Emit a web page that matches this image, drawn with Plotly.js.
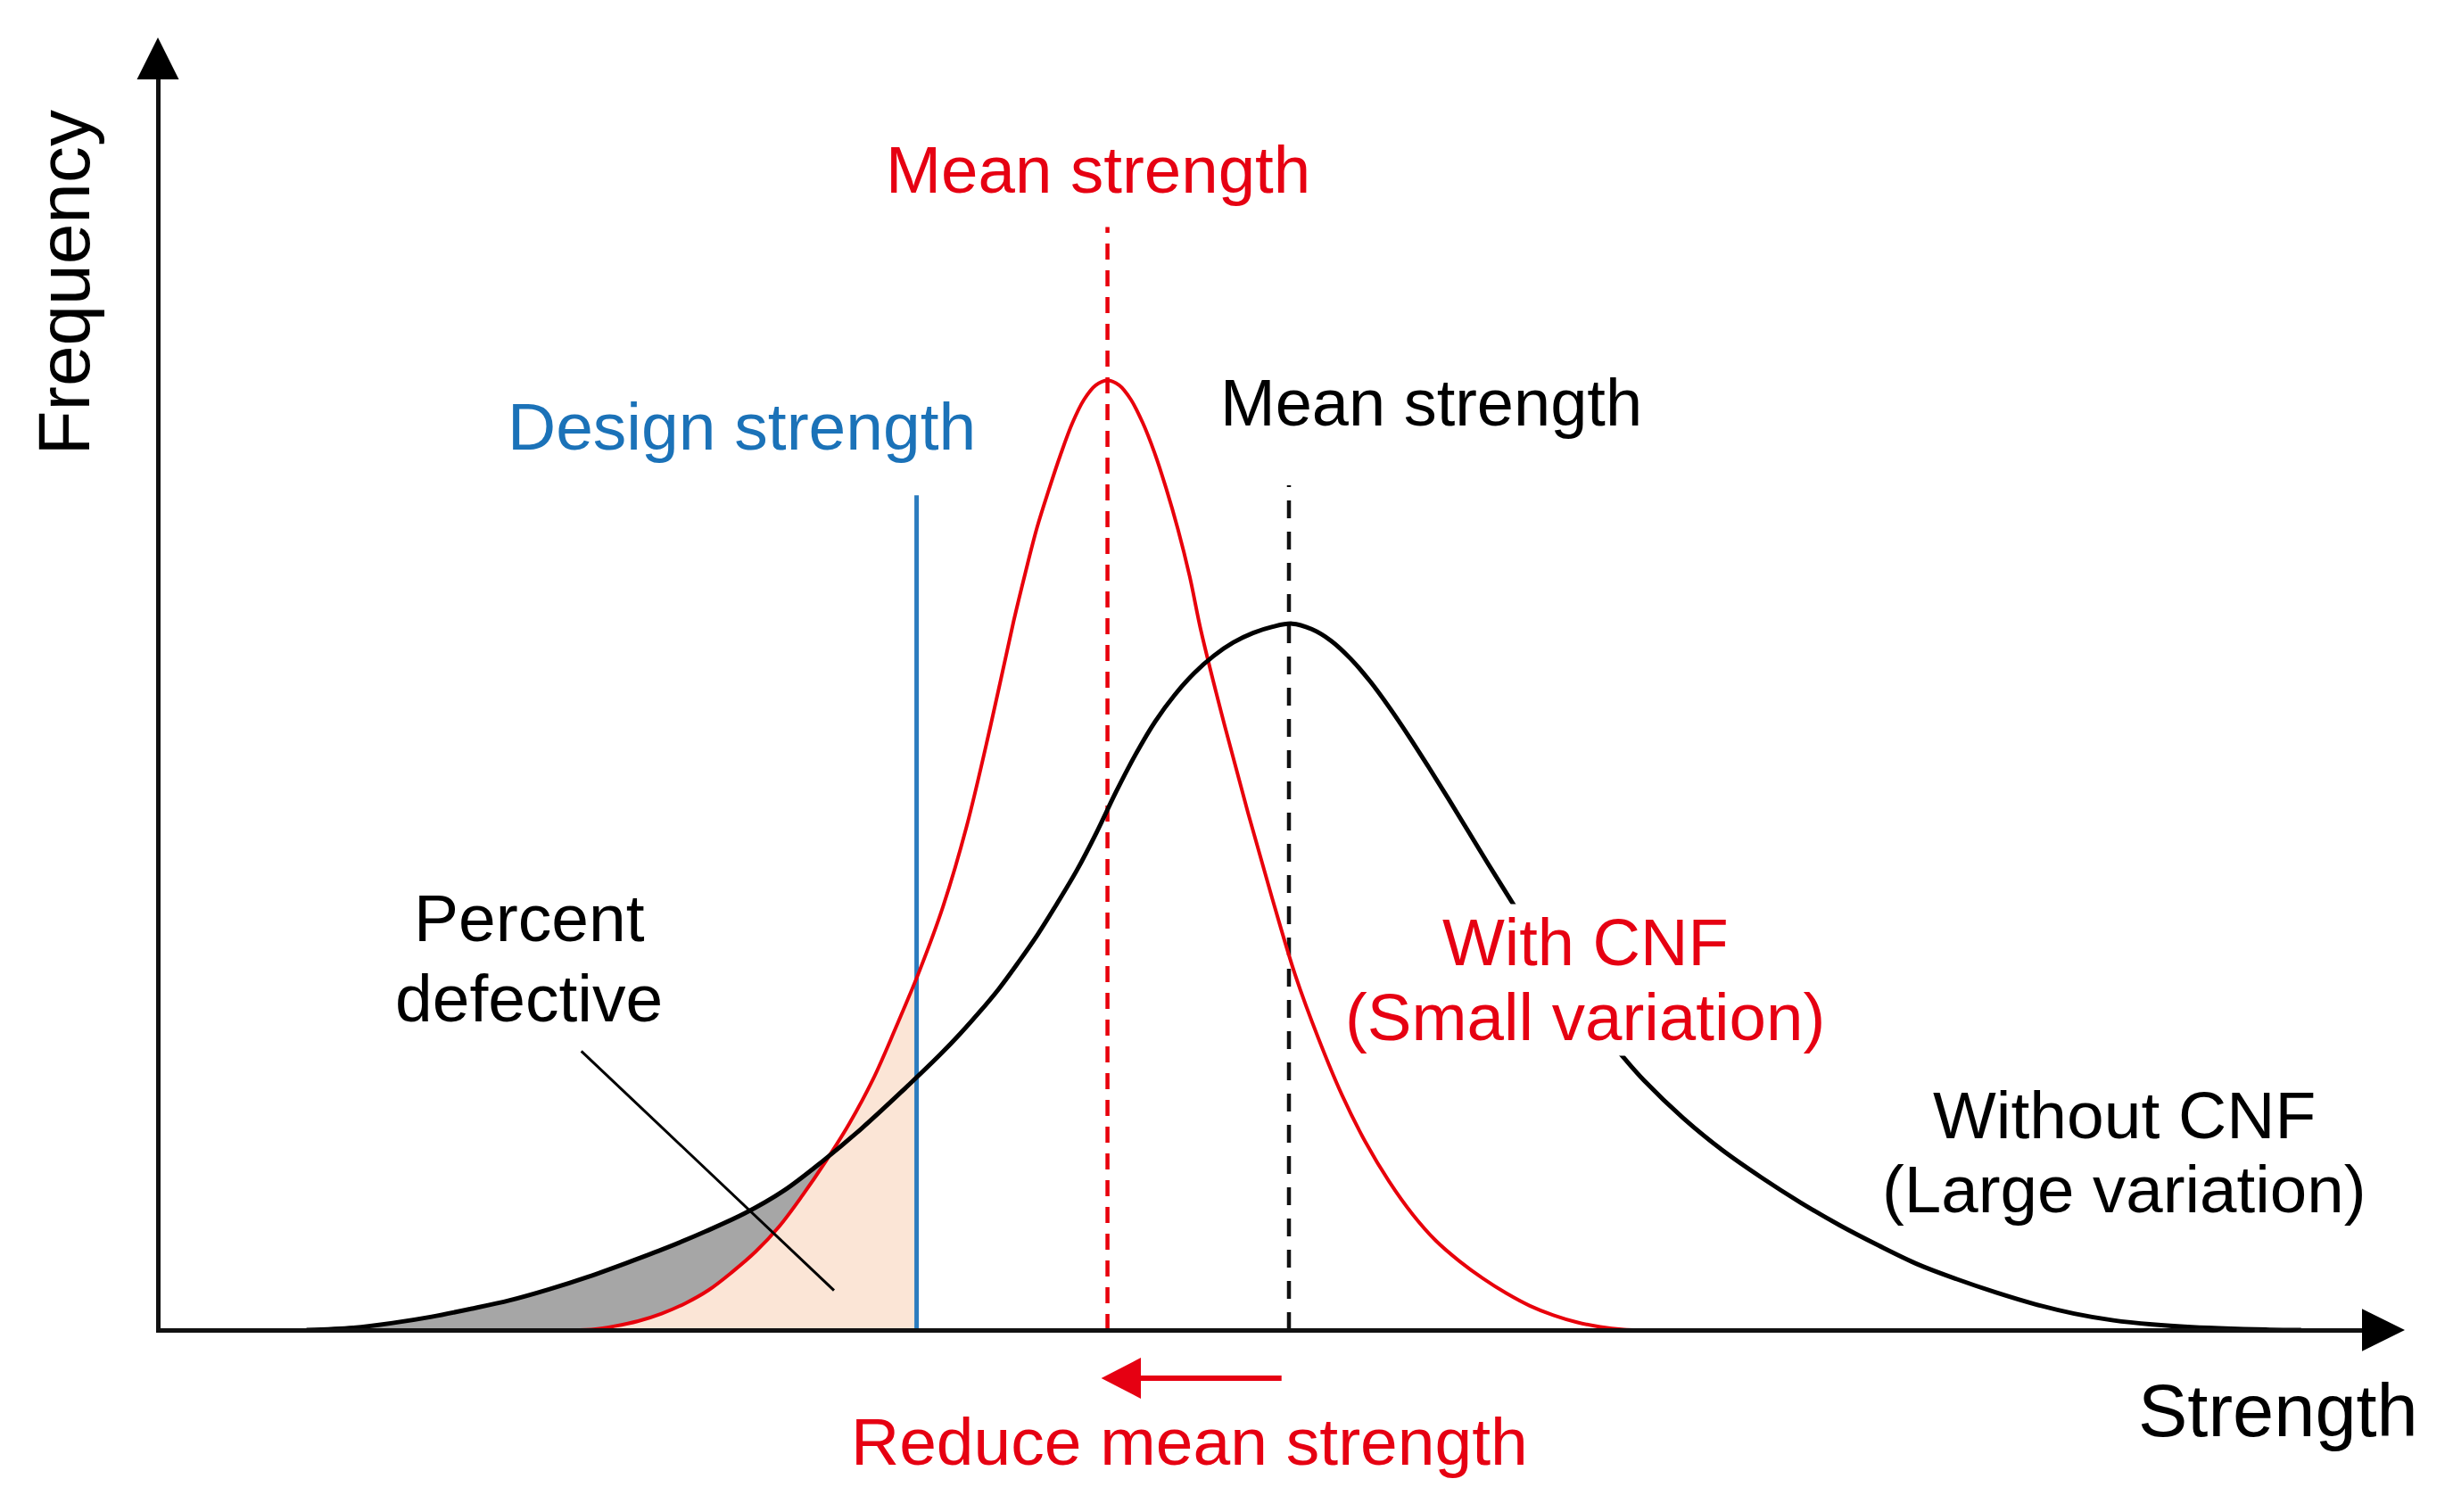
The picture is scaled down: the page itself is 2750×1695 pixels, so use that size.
<!DOCTYPE html>
<html>
<head>
<meta charset="utf-8">
<script src="https://cdn.plot.ly/plotly-3.0.1.min.js"></script>
<style>
html,body{margin:0;padding:0;background:#ffffff;}
#chart{width:2750px;height:1695px;}
</style>
</head>
<body>
<div id="chart"></div>
<script>
// ---------------- DATA (arbitrary strength / frequency units) ----------------
const strengthWithCNF  = [26.2, 27.7, 29.2, 30.7, 32.2, 33.7, 35.2, 36.7, 38.2, 39.7, 41.2, 42.7, 44.2, 45.7, 47.2, 48.7, 50.2, 51.7, 53.2, 54.7, 55.45, 56.2, 56.95, 57.7, 58.45, 59.2, 59.95, 60.7, 61.45, 62.2, 62.95, 63.7, 64.45, 65.2, 65.95, 66.7, 68.2, 69.7, 71.2, 72.7, 74.2, 75.7, 77.2, 78.7, 80.2, 81.7, 83.2, 84.7, 86.2, 87.7, 89.2, 90.7, 92.2, 93.7, 94.6];
const frequencyWithCNF = [0, 0.03, 0.25, 0.57, 1.05, 1.7, 2.55, 3.7, 5.0, 6.6, 8.6, 10.8, 13.2, 16.0, 19.4, 23.0, 27.1, 32.2, 38.5, 45.3, 48.4, 51.3, 53.7, 55.95, 57.96, 59.47, 60.39, 60.7, 60.39, 59.47, 58.0, 56.1, 53.8, 51.2, 48.2, 44.6, 38.6, 33.0, 27.7, 22.7, 18.6, 15.0, 12.0, 9.5, 7.4, 5.7, 4.4, 3.3, 2.35, 1.55, 0.95, 0.5, 0.2, 0.03, 0];

const strengthWithoutCNF  = [9.5, 12.5, 15, 17.5, 20, 22.5, 25, 27.5, 30, 32.5, 35, 37.5, 40, 42.5, 45, 47.5, 50, 51.25, 52.5, 53.75, 55, 56.25, 57.5, 58.75, 60, 61.25, 62.5, 63.75, 65, 66.25, 67.5, 68.75, 70, 71.25, 72.5, 73.75, 75, 76.25, 77.5, 78.75, 80, 81.25, 82.5, 83.75, 85, 86.25, 87.5, 88.75, 90, 91.25, 92.5, 93.75, 95, 97.5, 100, 102.5, 105, 107.5, 110, 112.5, 115, 117.5, 120, 122.5, 125, 127.5, 130, 132.5, 135, 137];
const frequencyWithoutCNF = [0, 0.15, 0.45, 0.85, 1.35, 1.9, 2.6, 3.4, 4.3, 5.25, 6.3, 7.45, 8.9, 10.8, 12.9, 15.2, 17.6, 18.9, 20.3, 21.8, 23.5, 25.3, 27.3, 29.4, 31.8, 34.4, 36.8, 38.9, 40.6, 42.0, 43.1, 43.95, 44.55, 44.95, 45.15, 44.8, 44.05, 42.9, 41.45, 39.75, 37.9, 35.95, 33.95, 31.9, 29.85, 27.85, 25.85, 23.95, 22.15, 20.45, 18.85, 17.35, 15.95, 13.55, 11.5, 9.75, 8.15, 6.7, 5.4, 4.2, 3.25, 2.4, 1.65, 1.05, 0.62, 0.35, 0.18, 0.08, 0.02, 0];

const designStrength = 48.5;
const meanStrengthWithCNF = 60.7;
const meanStrengthWithoutCNF = 72.3;

const axisTitleX = "Strength";
const axisTitleY = "Frequency";
const labelMeanWith = "Mean strength";
const labelMeanWithout = "Mean strength";
const labelDesign = "Design strength";
const labelDefective = ["Percent", "defective"];
const labelWith = ["With CNF", "(Small variation)"];
const labelWithout = ["Without CNF", "(Large variation)"];
const labelReduce = "Reduce mean strength";

// ---------------- GEOMETRY / STYLE ----------------
const W = 2750, H = 1695;
const M = {l: 180, r: 80, t: 70, b: 206};
const PW = W - M.l - M.r, PH = H - M.t - M.b;
const U = 17.538;                 // pixels per data unit
const ORIGIN = {x: 177, y: 1491}; // pixel position of (0,0)
const xRange = [(M.l - ORIGIN.x) / U, (M.l - ORIGIN.x + PW) / U];
const yRange = [(ORIGIN.y - (H - M.b)) / U, (ORIGIN.y - (H - M.b) + PH) / U];
const px = X => (X - M.l) / PW;
const py = Y => (H - M.b - Y) / PH;

const FONT = "Liberation Sans, Arial, Helvetica, sans-serif";
const RED = "#E60012", RED_LINE = "#E8000B", BLUE = "#1B72B8", BLUE_LINE = "#2B7CBF";

function interp(xs, ys, x) {
  for (let i = 1; i < xs.length; i++) {
    if (xs[i] >= x) {
      const t = (x - xs[i-1]) / (xs[i] - xs[i-1]);
      return ys[i-1] + t * (ys[i] - ys[i-1]);
    }
  }
  return ys[ys.length - 1];
}
function leftPart(xs, ys, xCut) {
  const ox = [], oy = [];
  for (let i = 0; i < xs.length; i++) {
    if (xs[i] < xCut - 0.3) { ox.push(xs[i]); oy.push(ys[i]); }
  }
  ox.push(xCut); oy.push(interp(xs, ys, xCut));
  return {x: ox, y: oy};
}

const grayPart = leftPart(strengthWithoutCNF, frequencyWithoutCNF, designStrength);
const peachPart = leftPart(strengthWithCNF, frequencyWithCNF, designStrength);

const traces = [
  {x: grayPart.x, y: grayPart.y, mode: 'lines', fill: 'tozeroy', fillcolor: '#A6A6A6',
   line: {width: 0, shape: 'spline', color: 'rgba(0,0,0,0)'}, hoverinfo: 'skip', showlegend: false},
  {x: peachPart.x, y: peachPart.y, mode: 'lines', fill: 'tozeroy', fillcolor: '#FBE5D6',
   line: {width: 0, shape: 'spline', color: 'rgba(0,0,0,0)'}, hoverinfo: 'skip', showlegend: false},
  {x: [designStrength, designStrength], y: [0, 53.35], mode: 'lines',
   line: {color: BLUE_LINE, width: 5}, hoverinfo: 'skip', showlegend: false},
  {x: [meanStrengthWithCNF, meanStrengthWithCNF], y: [0, 70.5], mode: 'lines',
   line: {color: RED_LINE, width: 4.5, dash: '18px,12px'}, hoverinfo: 'skip', showlegend: false},
  {x: [meanStrengthWithoutCNF, meanStrengthWithoutCNF], y: [0, 54.0], mode: 'lines',
   line: {color: '#111111', width: 4.5, dash: '20px,15px'}, hoverinfo: 'skip', showlegend: false},
  {x: strengthWithCNF, y: frequencyWithCNF, mode: 'lines', name: 'With CNF',
   line: {color: RED_LINE, width: 4, shape: 'spline', smoothing: 1}, showlegend: false},
  {x: strengthWithoutCNF, y: frequencyWithoutCNF, mode: 'lines', name: 'Without CNF',
   line: {color: '#000000', width: 5, shape: 'spline', smoothing: 1}, showlegend: false}
];

function label(text, X, baseline, size, color, extra) {
  return Object.assign({
    xref: 'paper', yref: 'paper', x: px(X), y: py(baseline - 0.3465 * size),
    xanchor: 'center', yanchor: 'middle', text: text, showarrow: false,
    font: {family: FONT, size: size, color: color}
  }, extra || {});
}

const annotations = [
  {xref: 'paper', yref: 'paper', x: px(71), y: py(317.5), xanchor: 'center', yanchor: 'middle',
   text: axisTitleY, showarrow: false, textangle: -90, font: {family: FONT, size: 82, color: '#000'}},
  label(axisTitleX, 2554, 1610.4, 83, '#000'),
  label(labelMeanWith, 1231, 216, 74.5, RED),
  label(labelMeanWithout, 1604.5, 476.7, 74, '#000'),
  label(labelDesign, 831, 504, 75, BLUE),
  label(labelDefective[0], 593, 1055.4, 75, '#000'),
  label(labelDefective[1], 593, 1144.6, 75, '#000'),
  label(labelWith[0], 1777, 1082.5, 74, RED, {bgcolor: '#ffffff', borderpad: 1}),
  label(labelWith[1], 1777, 1166.5, 74.5, RED, {bgcolor: '#ffffff', borderpad: 1}),
  label(labelWithout[0], 2381, 1275.5, 75, '#000'),
  label(labelWithout[1], 2381, 1359.5, 74.5, '#000'),
  label(labelReduce, 1333.4, 1641.7, 75, RED)
];

function tri(a, b, c) {
  return `M ${px(a[0])} ${py(a[1])} L ${px(b[0])} ${py(b[1])} L ${px(c[0])} ${py(c[1])} Z`;
}

const shapes = [
  {type: 'path', xref: 'paper', yref: 'paper', path: tri([177, 42], [153.5, 89], [200.5, 89]),
   fillcolor: '#000', line: {width: 0}},
  {type: 'path', xref: 'paper', yref: 'paper', path: tri([2696, 1491], [2648, 1467.2], [2648, 1514.8]),
   fillcolor: '#000', line: {width: 0}},
  {type: 'line', xref: 'paper', yref: 'paper', x0: px(651.7), y0: py(1178.3), x1: px(935), y1: py(1446.7),
   line: {color: '#000', width: 3}},
  {type: 'line', xref: 'paper', yref: 'paper', x0: px(1436.7), y0: py(1545), x1: px(1272), y1: py(1545),
   line: {color: RED, width: 6}},
  {type: 'path', xref: 'paper', yref: 'paper', path: tri([1234.6, 1545], [1279, 1522], [1279, 1568]),
   fillcolor: RED, line: {width: 0}}
];

const axisCommon = {showgrid: false, zeroline: false, showticklabels: false, ticks: '',
  showline: true, linecolor: '#111111', linewidth: 5, fixedrange: true, automargin: false};

const layout = {
  width: W, height: H,
  margin: {l: M.l, r: M.r, t: M.t, b: M.b, pad: 0},
  paper_bgcolor: '#ffffff', plot_bgcolor: '#ffffff',
  showlegend: false,
  font: {family: FONT},
  xaxis: Object.assign({range: xRange}, axisCommon),
  yaxis: Object.assign({range: yRange}, axisCommon),
  annotations: annotations,
  shapes: shapes
};

Plotly.newPlot('chart', traces, layout, {displayModeBar: false, staticPlot: true});
</script>
</body>
</html>
